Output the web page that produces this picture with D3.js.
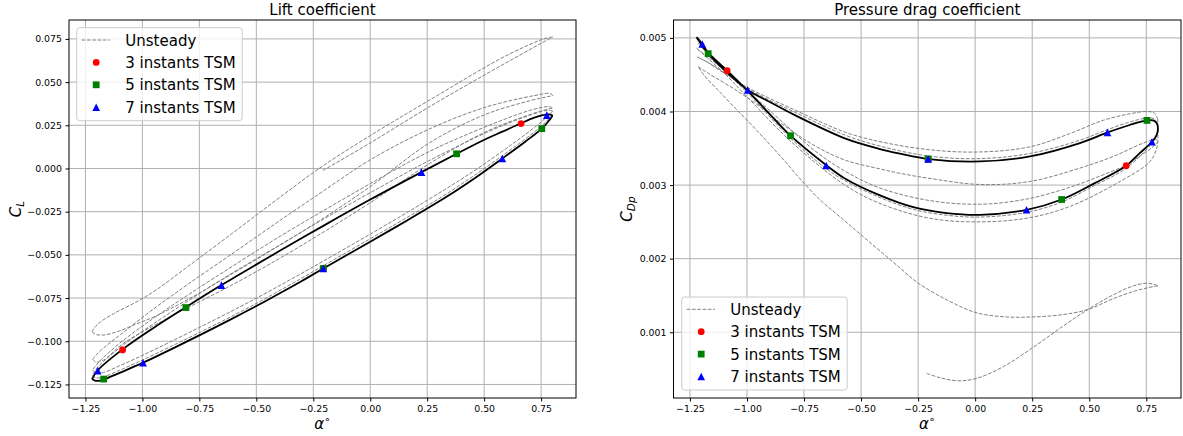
<!DOCTYPE html>
<html>
<head>
<meta charset="utf-8">
<script src="https://cdn.jsdelivr.net/npm/d3@7"></script>
<style>
  body { margin: 0; background: #fff; }
  svg text { font-family: "DejaVu Sans", sans-serif; fill: #000; }
</style>
</head>
<body>
<svg id="chart" width="1183" height="436"></svg>
<script>
// ---- tick values ----
const alphaTicks = [-1.25, -1.0, -0.75, -0.5, -0.25, 0, 0.25, 0.5, 0.75];
const clTicks = [-0.125, -0.1, -0.075, -0.05, -0.025, 0, 0.025, 0.05, 0.075];
const cdTicks = [0.001, 0.002, 0.003, 0.004, 0.005];

// ---- TSM instants (alpha, CL, CDp) ----
const tsm3Alpha = [-0.206, 0.662, -1.087];
const tsm3Cl = [-0.0579, 0.0260, -0.1050];
const tsm3Cd = [0.003354, 0.003263, 0.004555];
const tsm5Alpha = [-0.206, 0.753, 0.379, -0.809, -1.170];
const tsm5Cl = [-0.0579, 0.0231, 0.0085, -0.0805, -0.1219];
const tsm5Cd = [0.003354, 0.003879, 0.002804, 0.003671, 0.004786];
const tsm7Alpha = [-0.206, 0.580, 0.775, 0.225, -0.653, -1.196, -0.997];
const tsm7Cl = [-0.0579, 0.0058, 0.0309, -0.0021, -0.0675, -0.1170, -0.1124];
const tsm7Cd = [0.003354, 0.003716, 0.003589, 0.002664, 0.003267, 0.004918, 0.004292];

// ---- converged periodic loop (solid black), [alpha, value] ----
const loopCl = [
  [-1.221, -0.1219], [-1.208, -0.1228], [-1.19, -0.1229], [-1.17, -0.1222], [-1.10, -0.1183],
  [-0.997, -0.1124], [-0.85, -0.1031], [-0.746, -0.0963], [-0.614, -0.0875], [-0.527, -0.0815],
  [-0.395, -0.0721], [-0.308, -0.0657], [-0.206, -0.0579], [0.0, -0.0424], [0.160, -0.0302],
  [0.335, -0.0164], [0.46, -0.0055], [0.580, 0.0058], [0.68, 0.0155], [0.753, 0.0231],
  [0.785, 0.0278], [0.799, 0.0305], [0.792, 0.0312], [0.775, 0.0313], [0.72, 0.0294],
  [0.662, 0.0262], [0.58, 0.0213], [0.51, 0.0172], [0.379, 0.0085], [0.225, -0.0021],
  [0.0, -0.0180], [-0.206, -0.0332], [-0.395, -0.0475], [-0.653, -0.0675], [-0.809, -0.0803],
  [-0.95, -0.0922], [-1.087, -0.1047], [-1.196, -0.1168], [-1.221, -0.1219]
];
const loopCd = [
  [-1.221, 0.00501], [-1.17, 0.004786], [-1.087, 0.00453], [-0.997, 0.004292], [-0.9, 0.00413],
  [-0.79, 0.00395], [-0.571, 0.003635], [-0.417, 0.00349], [-0.33, 0.003428], [-0.204, 0.003354],
  [0.021, 0.003321], [0.24, 0.003389], [0.459, 0.003571], [0.581, 0.003716], [0.68, 0.00382],
  [0.752, 0.003879], [0.78, 0.00388], [0.796, 0.00384], [0.801, 0.00376], [0.795, 0.00368],
  [0.775, 0.003589], [0.72, 0.00343], [0.662, 0.003263], [0.52, 0.00302], [0.379, 0.002804],
  [0.226, 0.002664], [0.021, 0.002596], [-0.125, 0.00262], [-0.271, 0.0027], [-0.417, 0.00286],
  [-0.571, 0.00309], [-0.651, 0.003267], [-0.809, 0.003671], [-0.92, 0.00403], [-0.997, 0.00428],
  [-1.087, 0.004555], [-1.17, 0.0048], [-1.196, 0.004918], [-1.221, 0.00501]
];

// ---- unsteady transient (grey dashed), one array per half cycle ----
const unsteadyCl = [
  [[-0.208, -0.0012], [0.0, 0.0148], [0.262, 0.0359], [0.5, 0.0540], [0.7, 0.0688], [0.785, 0.0750], [0.801, 0.0760]],
  [[0.801, 0.0760], [0.775, 0.0756], [0.6, 0.0655], [0.262, 0.0397], [0.0, 0.0190], [-0.208, 0.0015],
   [-0.41, -0.0180], [-0.6, -0.0370], [-0.8, -0.0567], [-0.936, -0.0700], [-1.023, -0.0770],
   [-1.126, -0.0840], [-1.184, -0.0888], [-1.212, -0.0925], [-1.221, -0.0945]],
  [[-1.221, -0.0945], [-1.205, -0.0960], [-1.17, -0.0964], [-1.10, -0.0940], [-1.023, -0.0898],
   [-0.951, -0.0860], [-0.8, -0.0758], [-0.6, -0.0605], [-0.4, -0.0447], [-0.2, -0.0283],
   [0.0, -0.0105], [0.262, 0.0150], [0.5, 0.0310], [0.7, 0.0392], [0.78, 0.0416], [0.802, 0.0422]],
  [[0.802, 0.0422], [0.79, 0.0434], [0.72, 0.0422], [0.5, 0.0352], [0.262, 0.0230], [0.0, 0.0050],
   [-0.2, -0.0125], [-0.395, -0.0300], [-0.6, -0.0488], [-0.8, -0.0670], [-0.95, -0.0812],
   [-1.087, -0.0952], [-1.18, -0.1050], [-1.210, -0.1090], [-1.218, -0.1105]],
  [[-1.218, -0.1105], [-1.205, -0.1120], [-1.17, -0.1108], [-1.083, -0.1012], [-0.877, -0.0858],
   [-0.615, -0.0680], [-0.4, -0.0522], [-0.2, -0.0364], [0.0, -0.0198], [0.262, 0.0030],
   [0.5, 0.0208], [0.7, 0.0312], [0.78, 0.0344], [0.80, 0.0350]],
  [[0.80, 0.0350], [0.785, 0.0358], [0.7, 0.0336], [0.5, 0.0238], [0.262, 0.0100], [0.0, -0.0088],
   [-0.2, -0.0240], [-0.395, -0.0392], [-0.6, -0.0562], [-0.8, -0.0732], [-0.95, -0.0866],
   [-1.087, -0.0998], [-1.18, -0.1105], [-1.21, -0.1150], [-1.219, -0.1165]],
  [[-1.219, -0.1165], [-1.205, -0.1183], [-1.17, -0.1180], [-1.10, -0.1142], [-0.997, -0.1080],
   [-0.75, -0.0920], [-0.527, -0.0770], [-0.308, -0.0612], [-0.206, -0.0536], [0.0, -0.0380],
   [0.262, -0.0175], [0.46, -0.0010], [0.62, 0.0138], [0.74, 0.0258], [0.79, 0.0318], [0.801, 0.0332]],
  [[0.801, 0.0332], [0.78, 0.0337], [0.662, 0.0290], [0.51, 0.0208], [0.262, 0.0048], [0.0, -0.0140],
   [-0.206, -0.0294], [-0.395, -0.0441], [-0.653, -0.0643], [-0.809, -0.0775], [-0.95, -0.0898],
   [-1.087, -0.1025], [-1.196, -0.1150], [-1.220, -0.1198]],
  [[-1.220, -0.1198], [-1.205, -0.1212], [-1.17, -0.1206], [-1.10, -0.1168], [-0.997, -0.1107],
   [-0.746, -0.0947], [-0.527, -0.0800], [-0.308, -0.0640], [-0.206, -0.0563], [0.0, -0.0407],
   [0.16, -0.0285], [0.335, -0.0147], [0.58, 0.0074], [0.753, 0.0247], [0.800, 0.0312]]
];
const unsteadyCd = [
  [[-0.2126, 0.000442], [-0.15, 0.000378], [-0.074, 0.00034], [0.007, 0.000374], [0.123, 0.000532],
   [0.248, 0.000782], [0.372, 0.001054], [0.496, 0.001313], [0.605, 0.001508], [0.693, 0.00163],
   [0.752, 0.001667], [0.785, 0.00165], [0.801, 0.00163]],
  [[0.801, 0.00163], [0.78, 0.00162], [0.70, 0.00156], [0.60, 0.00145], [0.495, 0.00131],
   [0.372, 0.001235], [0.249, 0.001208], [0.139, 0.001208], [0.008, 0.001263], [-0.124, 0.00144],
   [-0.251, 0.001671], [-0.33, 0.001875], [-0.505, 0.002337], [-0.593, 0.00257], [-0.68, 0.0028],
   [-0.76, 0.00306], [-0.85, 0.00338], [-0.95, 0.00372], [-1.05, 0.00404], [-1.13, 0.0043],
   [-1.19, 0.0045], [-1.214, 0.00461]],
  [[-1.214, 0.00461], [-1.17, 0.00452], [-1.053, 0.0043], [-0.95, 0.00408], [-0.833, 0.0038],
   [-0.7, 0.00353], [-0.571, 0.00334], [-0.417, 0.00322], [-0.33, 0.00316], [-0.198, 0.00309],
   [0.021, 0.003008], [0.24, 0.003049], [0.459, 0.003231], [0.605, 0.003389], [0.737, 0.003571],
   [0.79, 0.00362], [0.801, 0.0036]],
  [[0.801, 0.0036], [0.795, 0.00357], [0.775, 0.00351], [0.72, 0.00339], [0.66, 0.00327],
   [0.52, 0.00309], [0.415, 0.00297], [0.226, 0.00281], [0.021, 0.00274], [-0.2, 0.00279],
   [-0.417, 0.00296], [-0.571, 0.00319], [-0.7, 0.00346], [-0.81, 0.00376], [-0.95, 0.00415],
   [-1.05, 0.00442], [-1.15, 0.00463], [-1.205, 0.00472], [-1.218, 0.00474]],
  [[-1.218, 0.00474], [-1.19, 0.0047], [-1.1, 0.00452], [-1.0, 0.00433], [-0.79, 0.00402],
   [-0.571, 0.00372], [-0.417, 0.00359], [-0.2, 0.00348], [0.021, 0.00345], [0.24, 0.00352],
   [0.415, 0.0037], [0.561, 0.00388], [0.68, 0.00397], [0.752, 0.004], [0.785, 0.00398], [0.800, 0.0039]],
  [[0.800, 0.0039], [0.801, 0.00372], [0.797, 0.00352], [0.766, 0.00332], [0.635, 0.00305],
   [0.415, 0.00271], [0.226, 0.00255], [0.007, 0.0025], [-0.2, 0.00255], [-0.417, 0.00275],
   [-0.571, 0.003], [-0.81, 0.0036], [-1.0, 0.0042], [-1.1, 0.00452], [-1.2, 0.0048], [-1.221, 0.00486]],
  [[-1.221, 0.00486], [-1.17, 0.00474], [-1.0, 0.00432], [-0.79, 0.00399], [-0.571, 0.00368],
   [-0.417, 0.00353], [-0.204, 0.003395], [0.021, 0.00336], [0.24, 0.00343], [0.459, 0.00361],
   [0.581, 0.003755], [0.68, 0.00386], [0.752, 0.00391], [0.785, 0.0039], [0.800, 0.00381]],
  [[0.800, 0.00381], [0.796, 0.00368], [0.775, 0.00357], [0.662, 0.00323], [0.52, 0.00299],
   [0.379, 0.00277], [0.226, 0.00263], [0.021, 0.002565], [-0.125, 0.00259], [-0.271, 0.00267],
   [-0.417, 0.00283], [-0.571, 0.00306], [-0.651, 0.00322], [-0.81, 0.00364], [-0.997, 0.00425],
   [-1.087, 0.00452], [-1.17, 0.00477], [-1.22, 0.00495]]
];

const legendLabels = ["Unsteady", "3 instants TSM", "5 instants TSM", "7 instants TSM"];
const tsmColors = ["red", "green", "blue"];

const svg = d3.select("#chart");

class LoopPlot {
  constructor(_config) {
    this.config = _config;
    this.initVis();
  }

  initVis() {
    let vis = this;
    let c = vis.config;

    vis.g = svg.append("g");

    // matplotlib-like autoscale: data extent plus 5% margin
    let pts = c.unsteady.flat().concat(c.loop);
    c.tsm.forEach(s => s.alpha.forEach((a, i) => pts.push([a, s.value[i]])));
    let pad = e => { let d = (e[1] - e[0]) * 0.05; return [e[0] - d, e[1] + d]; };

    vis.xScale = d3.scaleLinear()
      .domain(pad(d3.extent(pts, d => d[0])))
      .range([c.left, c.right]);
    vis.yScale = d3.scaleLinear()
      .domain(pad(d3.extent(pts, d => d[1])))
      .range([c.bottom, c.top]);

    vis.renderVis();
  }

  renderVis() {
    let vis = this;
    let c = vis.config;
    let x = vis.xScale, y = vis.yScale;

    // grid
    vis.g.append("g").selectAll("line").data(alphaTicks).join("line")
      .attr("x1", d => x(d)).attr("x2", d => x(d))
      .attr("y1", c.top).attr("y2", c.bottom)
      .attr("stroke", "#b0b0b0").attr("stroke-width", 1);
    vis.g.append("g").selectAll("line").data(c.yTicks).join("line")
      .attr("x1", c.left).attr("x2", c.right)
      .attr("y1", d => y(d)).attr("y2", d => y(d))
      .attr("stroke", "#b0b0b0").attr("stroke-width", 1);

    let line = d3.line()
      .x(d => x(d[0]))
      .y(d => y(d[1]))
      .curve(d3.curveCatmullRom);

    // unsteady transient
    vis.g.append("g").selectAll("path").data(c.unsteady).join("path")
      .attr("d", line)
      .attr("fill", "none")
      .attr("stroke", "#808080")
      .attr("stroke-width", 1)
      .attr("stroke-dasharray", "3.7,1.6");

    // periodic loop
    vis.g.append("path")
      .attr("d", line(c.loop))
      .attr("fill", "none")
      .attr("stroke", "#000")
      .attr("stroke-width", 1.8);

    // TSM instants
    c.tsm.forEach((s, k) => {
      let pts = s.alpha.map((a, i) => [a, s.value[i]]);
      vis.g.append("g").selectAll("path").data(pts).join("path")
        .attr("transform", d => `translate(${x(d[0])},${y(d[1])})`)
        .attr("d", markerPath(k))
        .attr("fill", tsmColors[k]);
    });

    // spines
    vis.g.append("rect")
      .attr("x", c.left).attr("y", c.top)
      .attr("width", c.right - c.left).attr("height", c.bottom - c.top)
      .attr("fill", "none").attr("stroke", "#000").attr("stroke-width", 1);

    // axes
    let xAxis = d3.axisBottom(x).tickValues(alphaTicks).tickFormat(d3.format(".2f"))
      .tickSize(3.5).tickPadding(3.5).tickSizeOuter(0);
    let yAxis = d3.axisLeft(y).tickValues(c.yTicks).tickFormat(d3.format(c.yFormat))
      .tickSize(3.5).tickPadding(3.5).tickSizeOuter(0);

    vis.g.append("g")
      .attr("transform", `translate(0,${c.bottom})`)
      .call(xAxis)
      .call(g => g.select(".domain").remove())
      .call(g => g.selectAll("text").attr("font-size", "9.4px").attr("font-family", "DejaVu Sans"));
    vis.g.append("g")
      .attr("transform", `translate(${c.left},0)`)
      .call(yAxis)
      .call(g => g.select(".domain").remove())
      .call(g => g.selectAll("text").attr("font-size", "9.4px").attr("font-family", "DejaVu Sans"));

    // title
    let cx = (c.left + c.right) / 2;
    let cy = (c.top + c.bottom) / 2;
    vis.g.append("text")
      .attr("x", cx).attr("y", 15)
      .attr("text-anchor", "middle")
      .attr("font-size", "15px")
      .text(c.title);

    // x label
    let xl = vis.g.append("text")
      .attr("x", cx).attr("y", 429)
      .attr("text-anchor", "middle")
      .attr("font-size", "15px");
    xl.append("tspan").attr("font-style", "italic").text("α");
    xl.append("tspan").attr("font-size", "10.5px").attr("dy", -6).text("∘");

    // y label
    let yl = vis.g.append("text")
      .attr("transform", `translate(${c.left - c.yLabelOffset},${cy}) rotate(-90)`)
      .attr("text-anchor", "middle")
      .attr("font-size", "15px")
      .attr("font-style", "italic");
    yl.append("tspan").text("C");
    yl.append("tspan").attr("font-size", "10.5px").attr("dy", 3).text(c.ySub);

    // legend
    let lg = vis.g.append("g")
      .attr("transform", `translate(${c.legendX},${c.legendY})`);
    lg.append("rect")
      .attr("width", 165.5).attr("height", 93)
      .attr("rx", 3)
      .attr("fill", "#fff").attr("fill-opacity", 0.8)
      .attr("stroke", "#cccccc").attr("stroke-width", 1);
    legendLabels.forEach((lab, i) => {
      let ry = 12.3 + i * 22.4;
      if (i === 0) {
        lg.append("line")
          .attr("x1", 5).attr("x2", 33.3).attr("y1", ry).attr("y2", ry)
          .attr("stroke", "#808080").attr("stroke-width", 1)
          .attr("stroke-dasharray", "3.7,1.6");
      } else {
        lg.append("path")
          .attr("transform", `translate(19.5,${ry})`)
          .attr("d", markerPath(i - 1))
          .attr("fill", tsmColors[i - 1]);
      }
      lg.append("text")
        .attr("x", 48.6).attr("y", ry + 5.6)
        .attr("font-size", "15px")
        .text(lab);
    });
  }
}

function markerPath(k) {
  if (k === 0) return d3.symbol(d3.symbolCircle, Math.PI * 3.4 * 3.4)();
  if (k === 1) return "M-3.4,-3.4H3.4V3.4H-3.4Z";
  return "M0,-3.8L3.8,3.8L-3.8,3.8Z";
}

new LoopPlot({
  left: 69, right: 576, top: 20, bottom: 398,
  title: "Lift coefficient",
  yTicks: clTicks, yFormat: ".3f",
  ySub: "L", yLabelOffset: 48,
  loop: loopCl, unsteady: unsteadyCl,
  tsm: [
    { alpha: tsm3Alpha, value: tsm3Cl },
    { alpha: tsm5Alpha, value: tsm5Cl },
    { alpha: tsm7Alpha, value: tsm7Cl }
  ],
  legendX: 76.7, legendY: 27.7
});

new LoopPlot({
  left: 673.5, right: 1181, top: 20, bottom: 398,
  title: "Pressure drag coefficient",
  yTicks: cdTicks, yFormat: ".3f",
  ySub: "Dp", yLabelOffset: 41.5,
  loop: loopCd, unsteady: unsteadyCd,
  tsm: [
    { alpha: tsm3Alpha, value: tsm3Cd },
    { alpha: tsm5Alpha, value: tsm5Cd },
    { alpha: tsm7Alpha, value: tsm7Cd }
  ],
  legendX: 681.7, legendY: 297
});
</script>
</body>
</html>
